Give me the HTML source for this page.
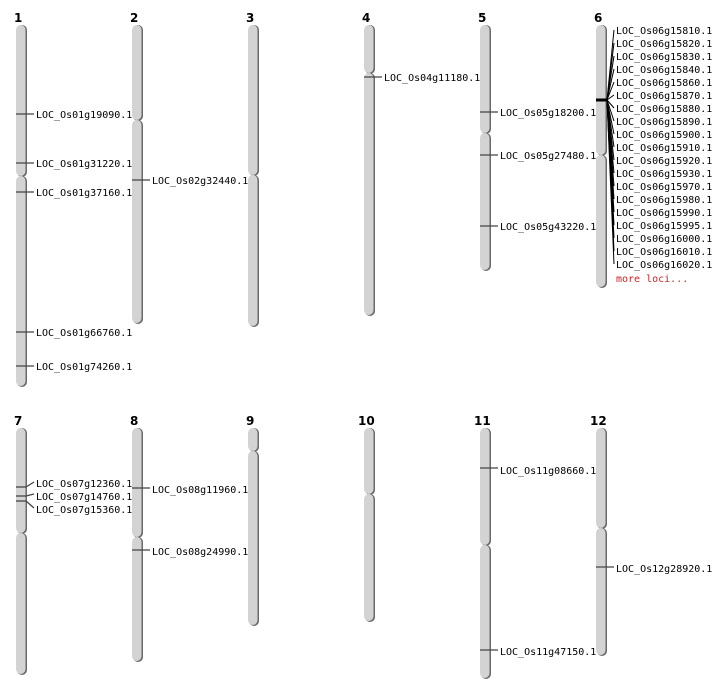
<!DOCTYPE html>
<html><head><meta charset="utf-8"><style>
html,body{margin:0;padding:0;background:#fff;}
svg{display:block;}
text{font-family:"DejaVu Sans Mono","Liberation Mono",monospace;font-size:10px;fill:#000;}
.n{font-family:"DejaVu Sans","Liberation Sans",sans-serif;font-weight:bold;font-size:12px;}
.sh{fill:#6a6a6a;}
.c{fill:#d3d3d3;}
.m{stroke:#444;stroke-width:1.3;}
</style></head><body>
<svg width="712" height="700" viewBox="0 0 712 700" xmlns="http://www.w3.org/2000/svg">
<!-- chromosome numbers -->
<text class="n" x="14" y="22">1</text>
<text class="n" x="130" y="22">2</text>
<text class="n" x="246" y="22">3</text>
<text class="n" x="362" y="22">4</text>
<text class="n" x="478" y="22">5</text>
<text class="n" x="594" y="22">6</text>
<text class="n" x="14" y="425">7</text>
<text class="n" x="130" y="425">8</text>
<text class="n" x="246" y="425">9</text>
<text class="n" x="358" y="425">10</text>
<text class="n" x="474" y="425">11</text>
<text class="n" x="590" y="425">12</text>

<!-- Chr1 -->
<rect class="sh" x="17" y="25" width="10" height="152" rx="5"/><rect class="c" x="16" y="25" width="9.5" height="151" rx="5"/>
<rect class="sh" x="17" y="176" width="10" height="211" rx="5"/><rect class="c" x="16" y="176" width="9.5" height="210" rx="5"/>
<!-- Chr2 -->
<rect class="sh" x="133" y="25" width="10" height="96" rx="5"/><rect class="c" x="132" y="25" width="9.5" height="95" rx="5"/>
<rect class="sh" x="133" y="120" width="10" height="204" rx="5"/><rect class="c" x="132" y="120" width="9.5" height="203" rx="5"/>
<!-- Chr3 -->
<rect class="sh" x="249" y="25" width="10" height="151" rx="5"/><rect class="c" x="248" y="25" width="9.5" height="150" rx="5"/>
<rect class="sh" x="249" y="175" width="10" height="152" rx="5"/><rect class="c" x="248" y="175" width="9.5" height="151" rx="5"/>
<!-- Chr4 -->
<rect class="sh" x="365" y="25" width="10" height="49" rx="5"/><rect class="c" x="364" y="25" width="9.5" height="48" rx="5"/>
<rect class="sh" x="365" y="73" width="10" height="243" rx="5"/><rect class="c" x="364" y="73" width="9.5" height="242" rx="5"/>
<!-- Chr5 -->
<rect class="sh" x="481" y="25" width="10" height="109" rx="5"/><rect class="c" x="480" y="25" width="9.5" height="108" rx="5"/>
<rect class="sh" x="481" y="133" width="10" height="138" rx="5"/><rect class="c" x="480" y="133" width="9.5" height="137" rx="5"/>
<!-- Chr6 -->
<rect class="sh" x="597" y="25" width="10" height="131" rx="5"/><rect class="c" x="596" y="25" width="9.5" height="130" rx="5"/>
<rect class="sh" x="597" y="155" width="10" height="133" rx="5"/><rect class="c" x="596" y="155" width="9.5" height="132" rx="5"/>
<!-- Chr7 -->
<rect class="sh" x="17" y="428" width="10" height="106" rx="5"/><rect class="c" x="16" y="428" width="9.5" height="105" rx="5"/>
<rect class="sh" x="17" y="533" width="10" height="142" rx="5"/><rect class="c" x="16" y="533" width="9.5" height="141" rx="5"/>
<!-- Chr8 -->
<rect class="sh" x="133" y="428" width="10" height="110" rx="5"/><rect class="c" x="132" y="428" width="9.5" height="109" rx="5"/>
<rect class="sh" x="133" y="537" width="10" height="125" rx="5"/><rect class="c" x="132" y="537" width="9.5" height="124" rx="5"/>
<!-- Chr9 -->
<rect class="sh" x="249" y="428" width="10" height="24" rx="5"/><rect class="c" x="248" y="428" width="9.5" height="23" rx="5"/>
<rect class="sh" x="249" y="451" width="10" height="175" rx="5"/><rect class="c" x="248" y="451" width="9.5" height="174" rx="5"/>
<!-- Chr10 -->
<rect class="sh" x="365" y="428" width="10" height="67" rx="5"/><rect class="c" x="364" y="428" width="9.5" height="66" rx="5"/>
<rect class="sh" x="365" y="494" width="10" height="128" rx="5"/><rect class="c" x="364" y="494" width="9.5" height="127" rx="5"/>
<!-- Chr11 -->
<rect class="sh" x="481" y="428" width="10" height="118" rx="5"/><rect class="c" x="480" y="428" width="9.5" height="117" rx="5"/>
<rect class="sh" x="481" y="545" width="10" height="134" rx="5"/><rect class="c" x="480" y="545" width="9.5" height="133" rx="5"/>
<!-- Chr12 -->
<rect class="sh" x="597" y="428" width="10" height="101" rx="5"/><rect class="c" x="596" y="428" width="9.5" height="100" rx="5"/>
<rect class="sh" x="597" y="528" width="10" height="128" rx="5"/><rect class="c" x="596" y="528" width="9.5" height="127" rx="5"/>

<!-- markers -->
<g class="m">
<line x1="16" y1="114" x2="34" y2="114"/>
<line x1="16" y1="163" x2="34" y2="163"/>
<line x1="16" y1="192" x2="34" y2="192"/>
<line x1="16" y1="332" x2="34" y2="332"/>
<line x1="16" y1="366" x2="34" y2="366"/>
<line x1="132" y1="180" x2="150" y2="180"/>
<line x1="364" y1="77" x2="382" y2="77"/>
<line x1="480" y1="112" x2="498" y2="112"/>
<line x1="480" y1="155" x2="498" y2="155"/>
<line x1="480" y1="226" x2="498" y2="226"/>
<line x1="16" y1="487" x2="26" y2="487"/><line x1="26" y1="487" x2="34" y2="482"/>
<line x1="16" y1="496" x2="26" y2="496"/><line x1="26" y1="496" x2="34" y2="494"/>
<line x1="16" y1="501" x2="26" y2="501"/><line x1="26" y1="501" x2="34" y2="508"/>
<line x1="132" y1="488" x2="150" y2="488"/>
<line x1="132" y1="550" x2="150" y2="550"/>
<line x1="480" y1="468" x2="498" y2="468"/>
<line x1="480" y1="650" x2="498" y2="650"/>
<line x1="596" y1="567" x2="614" y2="567"/>
</g>
<!-- chr6 fan -->
<line x1="596" y1="100" x2="607" y2="100" stroke="#000" stroke-width="3"/>
<g stroke="#000" stroke-width="1">
<line x1="607" y1="100" x2="614" y2="30"/>
<line x1="607" y1="100" x2="614" y2="43"/>
<line x1="607" y1="100" x2="614" y2="56"/>
<line x1="607" y1="100" x2="614" y2="69"/>
<line x1="607" y1="100" x2="614" y2="82"/>
<line x1="607" y1="100" x2="614" y2="95"/>
<line x1="607" y1="100" x2="614" y2="108"/>
<line x1="607" y1="100" x2="614" y2="121"/>
<line x1="607" y1="100" x2="614" y2="134"/>
<line x1="607" y1="100" x2="614" y2="147"/>
<line x1="607" y1="100" x2="614" y2="160"/>
<line x1="607" y1="100" x2="614" y2="173"/>
<line x1="607" y1="100" x2="614" y2="186"/>
<line x1="607" y1="100" x2="614" y2="199"/>
<line x1="607" y1="100" x2="614" y2="212"/>
<line x1="607" y1="100" x2="614" y2="225"/>
<line x1="607" y1="100" x2="614" y2="238"/>
<line x1="607" y1="100" x2="614" y2="251"/>
<line x1="607" y1="100" x2="614" y2="264"/>
</g>

<!-- labels -->
<text x="36" y="118">LOC_Os01g19090.1</text>
<text x="36" y="167">LOC_Os01g31220.1</text>
<text x="36" y="196">LOC_Os01g37160.1</text>
<text x="36" y="336">LOC_Os01g66760.1</text>
<text x="36" y="370">LOC_Os01g74260.1</text>
<text x="152" y="184">LOC_Os02g32440.1</text>
<text x="384" y="81">LOC_Os04g11180.1</text>
<text x="500" y="116">LOC_Os05g18200.1</text>
<text x="500" y="159">LOC_Os05g27480.1</text>
<text x="500" y="230">LOC_Os05g43220.1</text>
<text x="616" y="34">LOC_Os06g15810.1</text>
<text x="616" y="47">LOC_Os06g15820.1</text>
<text x="616" y="60">LOC_Os06g15830.1</text>
<text x="616" y="73">LOC_Os06g15840.1</text>
<text x="616" y="86">LOC_Os06g15860.1</text>
<text x="616" y="99">LOC_Os06g15870.1</text>
<text x="616" y="112">LOC_Os06g15880.1</text>
<text x="616" y="125">LOC_Os06g15890.1</text>
<text x="616" y="138">LOC_Os06g15900.1</text>
<text x="616" y="151">LOC_Os06g15910.1</text>
<text x="616" y="164">LOC_Os06g15920.1</text>
<text x="616" y="177">LOC_Os06g15930.1</text>
<text x="616" y="190">LOC_Os06g15970.1</text>
<text x="616" y="203">LOC_Os06g15980.1</text>
<text x="616" y="216">LOC_Os06g15990.1</text>
<text x="616" y="229">LOC_Os06g15995.1</text>
<text x="616" y="242">LOC_Os06g16000.1</text>
<text x="616" y="255">LOC_Os06g16010.1</text>
<text x="616" y="268">LOC_Os06g16020.1</text>
<text x="616" y="282" style="fill:#d02020">more loci...</text>
<text x="36" y="487">LOC_Os07g12360.1</text>
<text x="36" y="500">LOC_Os07g14760.1</text>
<text x="36" y="513">LOC_Os07g15360.1</text>
<text x="152" y="493">LOC_Os08g11960.1</text>
<text x="152" y="555">LOC_Os08g24990.1</text>
<text x="500" y="474">LOC_Os11g08660.1</text>
<text x="500" y="655">LOC_Os11g47150.1</text>
<text x="616" y="572">LOC_Os12g28920.1</text>
</svg>
</body></html>
